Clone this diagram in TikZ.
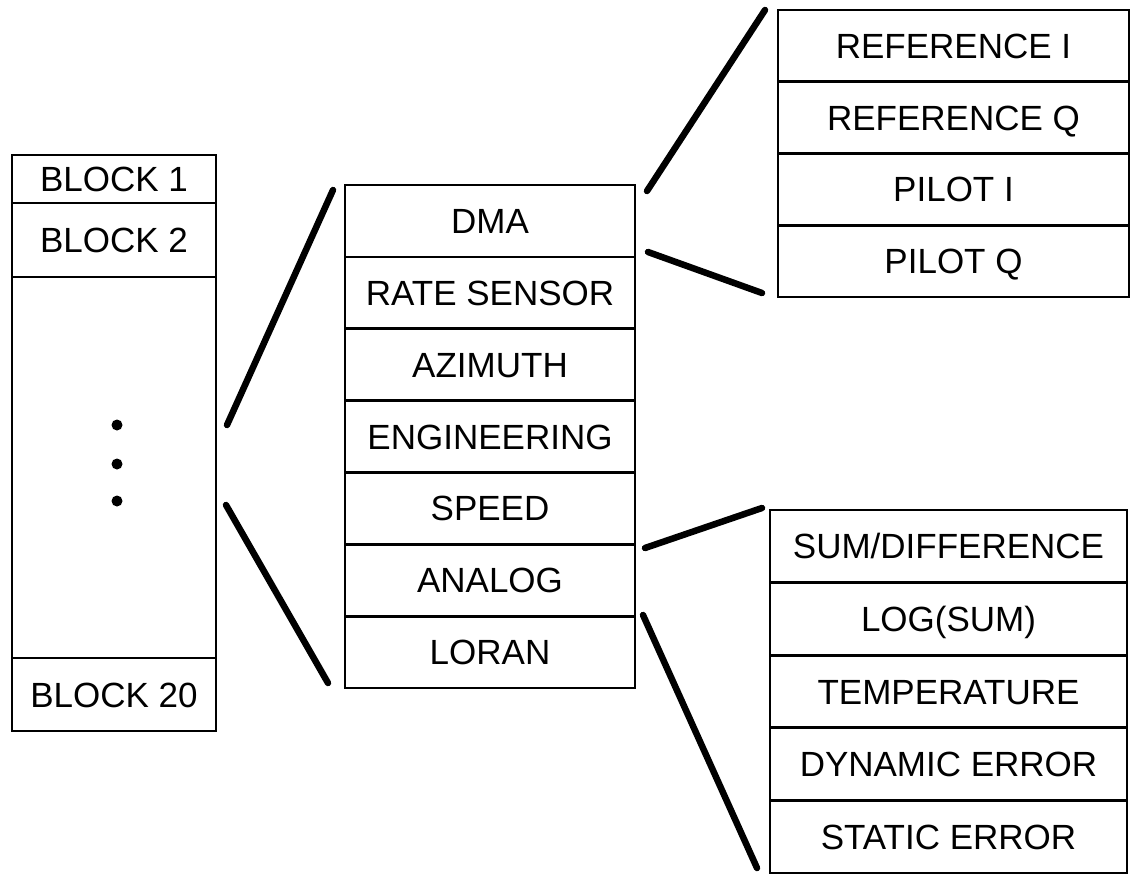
\documentclass[tikz,border=0pt]{standalone}
\usepackage{fontspec}
\setmainfont{Liberation Sans}
\begin{document}
\begin{tikzpicture}[x=1pt,y=-1pt,
  cell/.style={draw, line width=2.8pt, inner sep=0pt, outer sep=0pt,
    text height=25pt, text depth=0pt, font=\fontsize{35}{40}\selectfont},
  lcell/.style={cell, minimum width=204pt},
  mcell/.style={cell, minimum width=290pt, minimum height=71.86pt},
  tcell/.style={cell, minimum width=351pt, minimum height=71.75pt},
  bcell/.style={cell, minimum width=357pt, minimum height=72.6pt},
  zoomline/.style={line width=6.5pt, line cap=round},
  dotmark/.style={fill, circle, inner sep=0pt, minimum size=11pt}]
\useasboundingbox (0,0) rectangle (1132,878);
% left column
\node[draw, line width=2.8pt, minimum width=204pt, minimum height=576pt, inner sep=0pt] (left) at (114,443) {};
\node[lcell, minimum height=48pt] (b1) at (114,179) {BLOCK 1};
\node[lcell, minimum height=74pt] (b2) at (114,240) {BLOCK 2};
\node[lcell, minimum height=73pt] (b20) at (114,694.5) {BLOCK 20};
\node[dotmark] (d1) at (117,425) {};
\node[dotmark] (d2) at (117,464) {};
\node[dotmark] (d3) at (117,501) {};
% middle column
\node[mcell] (dma) at (490,221) {DMA};
\node[mcell] (rate) at (490,292.86) {RATE SENSOR};
\node[mcell] (azi) at (490,364.72) {AZIMUTH};
\node[mcell] (eng) at (490,436.58) {ENGINEERING};
\node[mcell] (speed) at (490,508.44) {SPEED};
\node[mcell] (analog) at (490,580.3) {ANALOG};
\node[mcell] (loran) at (490,652.16) {LORAN};
% top right column
\node[tcell] (refi) at (953.5,45.9) {REFERENCE I};
\node[tcell] (refq) at (953.5,117.6) {REFERENCE Q};
\node[tcell] (piloti) at (953.5,189.4) {PILOT I};
\node[tcell] (pilotq) at (953.5,261.1) {PILOT Q};
% bottom right column
\node[bcell] (sumdiff) at (948.5,546.3) {SUM/DIFFERENCE};
\node[bcell] (logsum) at (948.5,618.9) {LOG(SUM)};
\node[bcell] (temp) at (948.5,691.5) {TEMPERATURE};
\node[bcell] (dyn) at (948.5,764.1) {DYNAMIC ERROR};
\node[bcell] (stat) at (948.5,836.7) {STATIC ERROR};
% zoom lines
\coordinate (l1a) at (227,425); \coordinate (l1b) at (333,190);
\coordinate (l2a) at (226,505); \coordinate (l2b) at (328,683);
\coordinate (l3a) at (647,191); \coordinate (l3b) at (765,10);
\coordinate (l4a) at (648,252); \coordinate (l4b) at (762,293);
\coordinate (l5a) at (645,548); \coordinate (l5b) at (762,508);
\coordinate (l6a) at (643,615); \coordinate (l6b) at (757,868);
\draw[zoomline] (l1a) -- (l1b);
\draw[zoomline] (l2a) -- (l2b);
\draw[zoomline] (l3a) -- (l3b);
\draw[zoomline] (l4a) -- (l4b);
\draw[zoomline] (l5a) -- (l5b);
\draw[zoomline] (l6a) -- (l6b);
\end{tikzpicture}
\end{document}
